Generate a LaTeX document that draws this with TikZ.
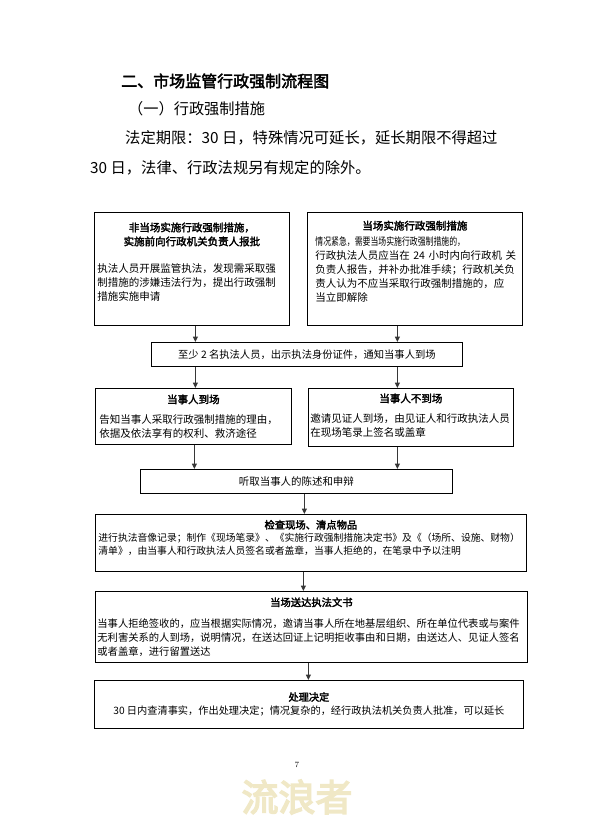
\documentclass[tikz,border=0pt]{standalone}
\usepackage{fontspec}
\usepackage{graphicx}
\usepackage{tikz}
\usetikzlibrary{arrows.meta}
\newfontfamily\cjk[BoldFont=*,BoldFeatures={FakeBold=2.5}]{Noto Sans CJK SC}
\newfontfamily\cjkmark[FakeBold=4]{Noto Sans CJK SC}
\definecolor{markyellow}{RGB}{240,232,198}
\definecolor{flowgray}{RGB}{55,55,55}
\newcommand{\boxhead}[2][0pt]{{\centering\bfseries #2\par}\vspace{#1}}
\newcommand{\boxfoot}[1]{\par\vspace{#1}\hrule height 0pt}
\tikzset{
  stepbox/.style={draw, line width=0.8pt, anchor=north west, inner ysep=0pt,
    font=\cjk\fontsize{10.5}{14}\selectfont},
  linebox/.style={draw, line width=0.8pt, anchor=north west, inner sep=0pt, align=center,
    font=\cjk\fontsize{10.3}{14}\selectfont},
  pagetext/.style={anchor=west, inner sep=0pt},
  flow/.style={-{Triangle[length=5.5pt,width=5pt]}, line width=1pt, draw=flowgray}
}
\begin{document}
\begin{tikzpicture}[x=1pt, y=-1pt]
        \path[use as bounding box, fill=white] (0,0) rectangle (594,827);
        \node[pagetext, font=\cjk\bfseries\fontsize{16}{16}\selectfont] (title) at (121,81) {二、市场监管行政强制流程图};
        \node[pagetext, font=\cjk\fontsize{15.2}{15.2}\selectfont] (subtitle) at (128,109) {（一）行政强制措施};
        \node[pagetext, font=\cjk\fontsize{15.3}{15.3}\selectfont] (termA) at (125,138) {法定期限：30 日，特殊情况可延长，延长期限不得超过};
        \node[pagetext, font=\cjk\fontsize{15.3}{15.3}\selectfont] (termB) at (90,168) {30 日，法律、行政法规另有规定的除外。};
        \node[stepbox, inner xsep=3pt, text width=189pt, minimum height=113pt] (offsite) at (94,212)
          {\boxhead[13pt]{非当场实施行政强制措施，\\实施前向行政机关负责人报批}
           执法人员开展监管执法，发现需采取强\\制措施的涉嫌违法行为，提出行政强制\\措施实施申请\boxfoot{14pt}};
        \node[stepbox, inner xsep=8pt, text width=199pt, minimum height=113pt] (onsite) at (307,212)
          {\boxhead[1.5pt]{当场实施行政强制措施}
           \scalebox{0.75}[1]{情况紧急，需要当场实施行政强制措施的，}\\行政执法人员应当在~24~小时内向行政机~关\\负责人报告，并补办批准手续；行政机关负\\责人认为不应当采取行政强制措施的，应\\当立即解除\boxfoot{15pt}};
        \node[linebox, minimum width=311pt, minimum height=24pt] (notify) at (151,342) {至少 2 名执法人员，出示执法身份证件，通知当事人到场};
        \node[stepbox, inner xsep=4pt, text width=188pt, minimum height=56pt] (present) at (95,388)
          {\boxhead[6pt]{当事人到场}
           告知当事人采取行政强制措施的理由，\\依据及依法享有的权利、救济途径};
        \node[stepbox, inner xsep=2pt, text width=201pt, minimum height=58pt] (absent) at (308,388)
          {\boxhead[6pt]{当事人不到场}
           邀请见证人到场，由见证人和行政执法人员\\在现场笔录上签名或盖章\boxfoot{4pt}};
        \node[linebox, font=\cjk\fontsize{10.45}{14}\selectfont, minimum width=312pt, minimum height=24pt] (hearing) at (140,469) {听取当事人的陈述和申辩};
        \node[stepbox, inner xsep=3pt, text width=425pt, minimum height=57pt, font=\cjk\fontsize{9.8}{13}\selectfont] (inspect) at (95,514)
          {\boxhead{\fontsize{10.3}{13}\selectfont 检查现场、清点物品}
           进行执法音像记录；制作《现场笔录》、《实施行政强制措施决定书》及《（场所、设施、财物）\\清单》，由当事人和行政执法人员签名或者盖章，当事人拒绝的，在笔录中予以注明\boxfoot{10pt}};
        \node[stepbox, inner xsep=2pt, text width=428pt, minimum height=71pt, font=\cjk\fontsize{10.3}{14}\selectfont] (deliver) at (95,591)
          {\boxhead[7pt]{当场送达执法文书}
           当事人拒绝签收的，应当根据实际情况，邀请当事人所在地基层组织、所在单位代表或与案件\\无利害关系的人到场，说明情况，在送达回证上记明拒收事由和日期，由送达人、见证人签名\\或者盖章，进行留置送达};
        \node[linebox, font=\cjk\fontsize{10.2}{14}\selectfont, minimum width=429pt, minimum height=48pt] (decide) at (94,680)
          {\textbf{处理决定}\\30 日内查清事实，作出处理决定；情况复杂的，经行政执法机关负责人批准，可以延长};
        \node[font=\fontsize{8}{8}\selectfont] (pageno) at (297,765) {7};
        \node[font=\cjkmark\fontsize{37}{37}\selectfont, text=markyellow] (mark) at (297,797) {流浪者};
        \draw[flow] ([xshift=3.5pt]offsite.south) -- ([xshift=3.5pt]offsite.south |- notify.north);
        \draw[flow] ([xshift=-17.5pt]onsite.south) -- ([xshift=-17.5pt]onsite.south |- notify.north);
        \draw[flow] ([xshift=2pt]present.north |- notify.south) -- ([xshift=2pt]present.north);
        \draw[flow] ([xshift=-13.5pt]absent.north |- notify.south) -- ([xshift=-13.5pt]absent.north);
        \draw[flow] ([xshift=1pt]present.south) -- ([xshift=1pt]present.south |- hearing.north);
        \draw[flow] ([xshift=-13.5pt]absent.south) -- ([xshift=-13.5pt]absent.south |- hearing.north);
        \draw[flow] ([xshift=8pt]hearing.south) -- ([xshift=8pt]hearing.south |- inspect.north);
        \draw[flow] ([xshift=-7.5pt]inspect.south) -- ([xshift=-7.5pt]inspect.south |- deliver.north);
        \draw[flow] ([xshift=-3pt]deliver.south) -- ([xshift=-3pt]deliver.south |- decide.north);
    \end{tikzpicture}
\end{document}
